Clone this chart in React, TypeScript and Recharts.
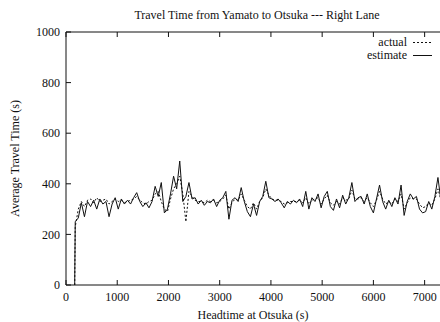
import { LineChart, Line, XAxis, YAxis } from 'recharts';

// headtime at Otsuka (s)
const headtimes = [
  170, 180, 240, 300, 360, 420, 480, 540, 600, 660, 720, 780, 840, 900, 960, 1020, 1080, 1140,
  1200, 1260, 1320, 1380, 1440, 1500, 1560, 1620, 1680, 1740, 1800, 1860, 1920, 1980, 2040, 2100,
  2160, 2220, 2280, 2340, 2400, 2460, 2520, 2580, 2640, 2700, 2760, 2820, 2880, 2940, 3000, 3060,
  3120, 3180, 3240, 3300, 3360, 3420, 3480, 3540, 3600, 3660, 3720, 3780, 3840, 3900, 3960, 4020,
  4080, 4140, 4200, 4260, 4320, 4380, 4440, 4500, 4560, 4620, 4680, 4740, 4800, 4860, 4920, 4980,
  5040, 5100, 5160, 5220, 5280, 5340, 5400, 5460, 5520, 5580, 5640, 5700, 5760, 5820, 5880, 5940,
  6000, 6060, 6120, 6180, 6240, 6300, 6360, 6420, 6480, 6540, 6600, 6660, 6720, 6780, 6840, 6900,
  6960, 7020, 7080, 7140, 7200, 7260, 7320,
];

const actual = [
  0, 230, 300, 330, 310, 335, 340, 325, 345, 330, 335, 340, 320, 330, 340, 330, 335, 325,
  330, 335, 340, 350, 335, 325, 320, 330, 335, 360, 370, 330, 300, 290, 340, 380,
  400, 430, 360, 250, 370, 350, 335, 330, 330, 325, 335, 330, 335, 325, 330, 340,
  355, 300, 325, 340, 335, 360, 335, 310, 300, 325, 300, 330, 345, 380, 355, 340,
  335, 335, 330, 320, 325, 330, 330, 330, 335, 325, 345, 320, 335, 340, 345, 320,
  340, 355, 325, 315, 330, 320, 345, 335, 340, 375, 340, 340, 345, 330, 345, 325,
  310, 335, 370, 340, 320, 330, 320, 340, 330, 360, 300, 325, 345, 340, 340, 320,
  305, 310, 325, 315, 340, 380, 335,
];

const estimate = [
  0, 250, 265, 325, 270, 330, 310, 335, 300, 340, 320, 330, 270, 320, 345, 300, 340, 320,
  335, 320, 345, 365, 330, 310, 325, 305, 330, 390, 350, 405, 285, 300, 360, 430,
  380, 490, 330, 350, 405, 340, 345, 320, 335, 315, 330, 325, 340, 310, 335, 345,
  370, 260, 335, 345, 330, 385, 330, 290, 270, 320, 275, 330, 350, 410, 345, 340,
  330, 340, 325, 305, 330, 320, 335, 325, 340, 310, 370, 300, 345, 330, 360, 305,
  350, 370, 310, 295, 340, 305, 355, 320, 345, 405, 330, 345, 350, 320, 360, 310,
  285, 340, 395, 330, 300, 335, 310, 345, 320, 395, 275, 330, 360, 340, 350, 300,
  285, 290, 330, 300, 350, 425, 330,
];

const xTicks = [0, 1000, 2000, 3000, 4000, 5000, 6000, 7000];
const yTicks = [0, 200, 400, 600, 800, 1000];

const FONT = '"Liberation Serif", "DejaVu Serif", serif';
const INK = '#111';
const FS = 12;

const data = headtimes.map((t, i) => ({ t, actual: actual[i], estimate: estimate[i] }));

export default function App() {
  const tickStyle = { fill: INK, fontSize: FS, fontFamily: FONT };

  return (
    <div style={{ position: 'absolute', left: 0, top: 0, width: 440, height: 322, background: '#fff', fontFamily: FONT }}>
      <div style={{ position: 'absolute', top: 8, left: 57, width: 400, textAlign: 'center', fontSize: FS, color: INK, lineHeight: '14px' }}>
        Travel Time from Yamato to Otsuka --- Right Lane
      </div>
      <LineChart width={440} height={322} data={data} margin={{ top: 31, right: 0, left: 0, bottom: 0 }}>
        <XAxis
          dataKey="t"
          type="number"
          domain={[0, 7300]}
          ticks={xTicks}
          allowDataOverflow
          height={37}
          tick={tickStyle}
          tickSize={-5}
          tickMargin={12}
          axisLine={{ stroke: INK }}
          tickLine={{ stroke: INK }}
          label={{ value: 'Headtime at Otsuka (s)', position: 'insideBottom', offset: 3, fill: INK, fontSize: FS, fontFamily: FONT }}
        />
        {/* mirrored top frame with inward ticks */}
        <XAxis
          xAxisId="top"
          dataKey="t"
          type="number"
          orientation="top"
          domain={[0, 7300]}
          ticks={xTicks}
          allowDataOverflow
          height={1}
          tick={{ fontSize: 0 }}
          tickFormatter={() => ''}
          tickSize={-5}
          axisLine={{ stroke: INK }}
          tickLine={{ stroke: INK }}
        />
        <YAxis
          type="number"
          domain={[0, 1000]}
          ticks={yTicks}
          width={66}
          tick={tickStyle}
          tickSize={-5}
          tickMargin={11}
          axisLine={{ stroke: INK }}
          tickLine={{ stroke: INK }}
          label={{ value: 'Average Travel Time (s)', angle: -90, position: 'insideLeft', offset: 15, fill: INK, fontSize: FS, fontFamily: FONT, style: { textAnchor: 'middle' } }}
        />
        <Line
          dataKey="actual"
          type="linear"
          stroke={INK}
          strokeWidth={1}
          strokeDasharray="2 2"
          dot={false}
          isAnimationActive={false}
        />
        <Line
          dataKey="estimate"
          type="linear"
          stroke={INK}
          strokeWidth={1}
          dot={false}
          isAnimationActive={false}
        />
        <Line
          xAxisId="top"
          dataKey="estimate"
          stroke="none"
          dot={false}
          legendType="none"
          isAnimationActive={false}
        />
      </LineChart>

      {/* legend, top right inside the frame */}
      <div style={{ position: 'absolute', top: 36, right: 8, fontSize: FS, color: INK, lineHeight: '12px' }}>
        <div style={{ display: 'flex', alignItems: 'center', justifyContent: 'flex-end', height: 12 }}>
          <span>actual</span>
          <svg width={19} height={12} style={{ marginLeft: 6 }}>
            <line x1={0} y1={6.5} x2={19} y2={6.5} stroke={INK} strokeWidth={1} strokeDasharray="2 2" />
          </svg>
        </div>
        <div style={{ display: 'flex', alignItems: 'center', justifyContent: 'flex-end', height: 12, marginTop: 1 }}>
          <span>estimate</span>
          <svg width={19} height={12} style={{ marginLeft: 6 }}>
            <line x1={0} y1={6.5} x2={19} y2={6.5} stroke={INK} strokeWidth={1} />
          </svg>
        </div>
      </div>
    </div>
  );
}
